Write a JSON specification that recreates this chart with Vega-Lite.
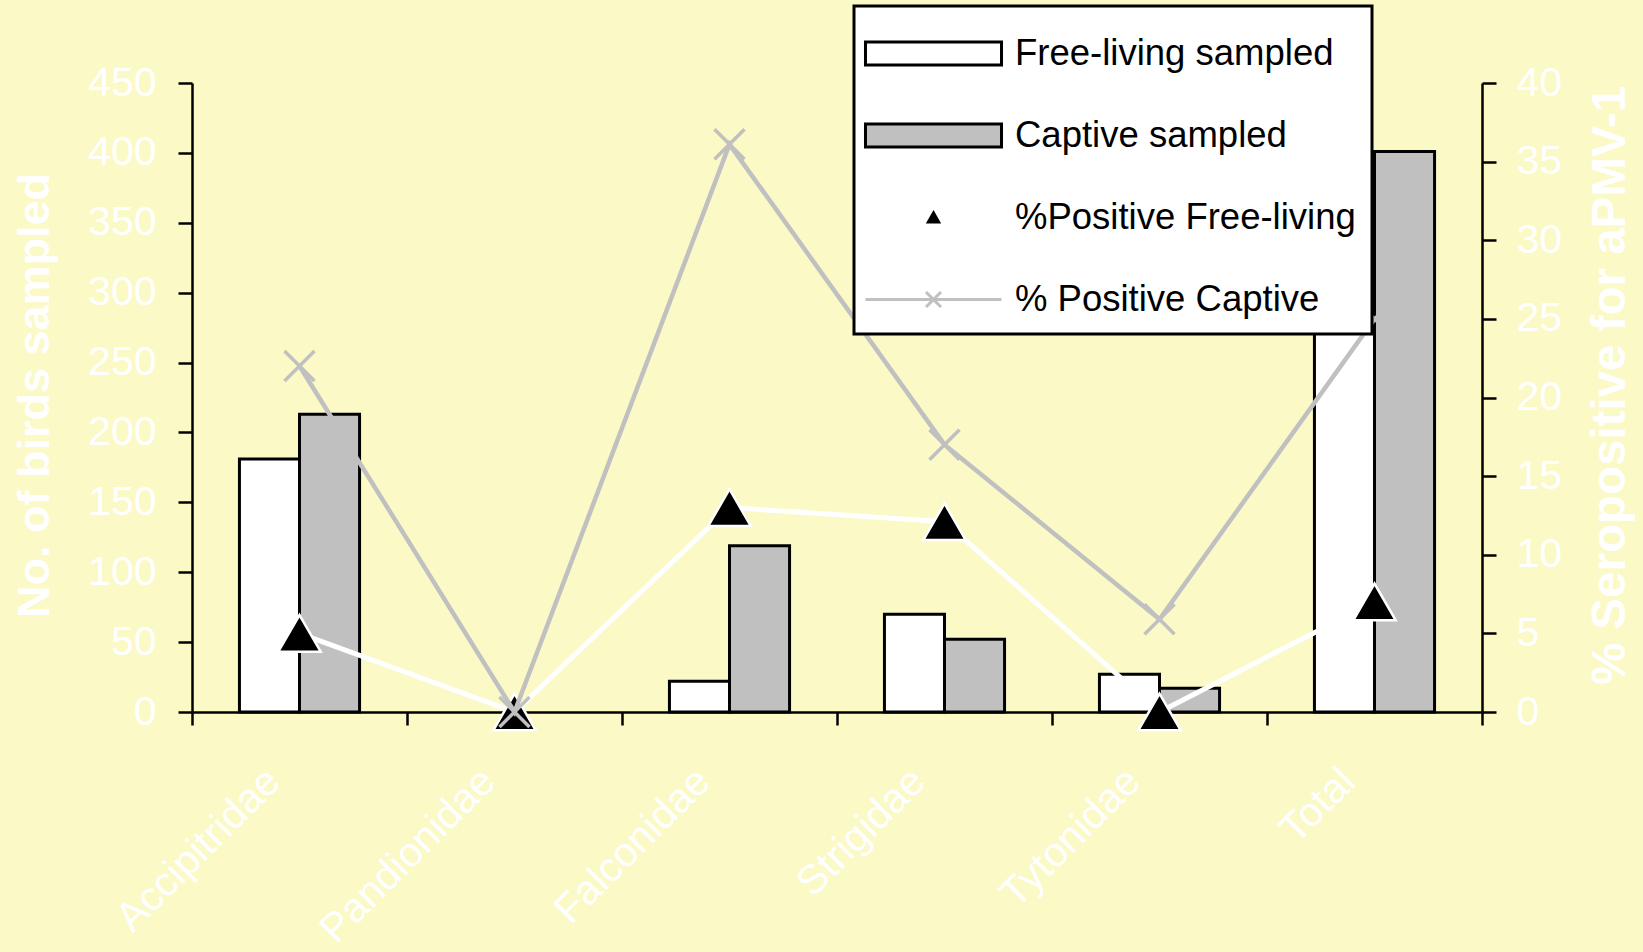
{
  "$schema": "https://vega.github.io/schema/vega-lite/v6.json",
  "autosize": {"type": "none"},
  "width": 1290,
  "height": 629,
  "padding": {"left": 192, "top": 83, "right": 161, "bottom": 240},
  "background": "#FBF9C6",
  "config": {
    "view": {"stroke": null},
    "font": "Liberation Sans",
    "axis": {
      "domainColor": "black", "domainWidth": 2.5,
      "tickColor": "black", "tickWidth": 2.5, "tickSize": 14,
      "labelColor": "white", "labelFont": "Liberation Sans", "labelFontSize": 41,
      "titleColor": "white", "titleFont": "Liberation Sans", "titleFontSize": 45, "titleFontWeight": "bold",
      "grid": false
    }
  },
  "datasets": {
    "counts": [
      {"family": "Accipitridae", "series": "Free-living sampled", "birds": 181},
      {"family": "Accipitridae", "series": "Captive sampled", "birds": 213},
      {"family": "Pandionidae", "series": "Free-living sampled", "birds": 0},
      {"family": "Pandionidae", "series": "Captive sampled", "birds": 0},
      {"family": "Falconidae", "series": "Free-living sampled", "birds": 22},
      {"family": "Falconidae", "series": "Captive sampled", "birds": 119},
      {"family": "Strigidae", "series": "Free-living sampled", "birds": 70},
      {"family": "Strigidae", "series": "Captive sampled", "birds": 52},
      {"family": "Tytonidae", "series": "Free-living sampled", "birds": 27},
      {"family": "Tytonidae", "series": "Captive sampled", "birds": 17},
      {"family": "Total", "series": "Free-living sampled", "birds": 300},
      {"family": "Total", "series": "Captive sampled", "birds": 401}
    ],
    "pct": [
      {"family": "Accipitridae", "series": "%Positive Free-living", "pct": 5.0},
      {"family": "Pandionidae", "series": "%Positive Free-living", "pct": 0},
      {"family": "Falconidae", "series": "%Positive Free-living", "pct": 13.0},
      {"family": "Strigidae", "series": "%Positive Free-living", "pct": 12.1},
      {"family": "Tytonidae", "series": "%Positive Free-living", "pct": 0},
      {"family": "Total", "series": "%Positive Free-living", "pct": 7.0},
      {"family": "Accipitridae", "series": "% Positive Captive", "pct": 22.0},
      {"family": "Pandionidae", "series": "% Positive Captive", "pct": 0},
      {"family": "Falconidae", "series": "% Positive Captive", "pct": 36.1},
      {"family": "Strigidae", "series": "% Positive Captive", "pct": 17.0},
      {"family": "Tytonidae", "series": "% Positive Captive", "pct": 5.9},
      {"family": "Total", "series": "% Positive Captive", "pct": 25.0}
    ]
  },
  "encoding": {
    "x": {
      "field": "family", "type": "nominal",
      "sort": ["Accipitridae", "Pandionidae", "Falconidae", "Strigidae", "Tytonidae", "Total"],
      "scale": {"paddingInner": 0, "paddingOuter": 0},
      "axis": {
        "title": null, "tickBand": "extent", "tickSize": 13,
        "labelAngle": 315, "labelAlign": "right", "labelBaseline": "middle",
        "labelOffset": -26, "labelPadding": 50, "labelLimit": 500
      }
    }
  },
  "layer": [
    {
      "data": {"name": "counts"},
      "mark": {"type": "bar", "stroke": "black", "strokeWidth": 3},
      "encoding": {
        "xOffset": {"field": "series", "type": "nominal",
          "sort": ["Free-living sampled", "Captive sampled"],
          "scale": {"paddingInner": 0, "paddingOuter": 0.79}},
        "y": {"field": "birds", "type": "quantitative",
          "scale": {"domain": [0, 450], "nice": false},
          "axis": {"title": "No. of birds sampled", "orient": "left",
            "values": [0, 50, 100, 150, 200, 250, 300, 350, 400, 450],
            "labelPadding": 22,
            "titleAngle": 270, "titleAlign": "center", "titleBaseline": "middle",
            "titleX": -158, "titleY": 312}},
        "strokeOpacity": {"condition": {"test": "datum.birds === 0", "value": 0}, "value": 1},
        "fill": {
          "field": "series", "type": "nominal",
          "scale": {
            "domain": ["Free-living sampled", "Captive sampled", "%Positive Free-living", "% Positive Captive"],
            "range": ["white", "#C0C0C0", "black", "transparent"]
          },
          "legend": {
            "title": null, "orient": "none", "legendX": 662, "legendY": -77,
            "direction": "vertical", "columns": 1,
            "fillColor": "white", "strokeColor": "black", "padding": 16,
            "symbolSize": 3600, "rowPadding": 32,
            "symbolOffset": 32, "labelOffset": 50,
            "labelFont": "Liberation Sans", "labelFontSize": 36.5, "labelColor": "black", "labelLimit": 700,
            "symbolType": {"expr": "datum.value === 'Free-living sampled' || datum.value === 'Captive sampled' ? 'M-2.267,-0.383H2.267V0.383H-2.267Z' : datum.value === '%Positive Free-living' ? 'M0,-0.15L0.17,0.15L-0.17,0.15Z' : 'M-2.267,0H2.267M-0.25,-0.25L0.25,0.25M-0.25,0.25L0.25,-0.25'"},
            "symbolStrokeColor": {"expr": "datum.value === '% Positive Captive' ? '#C0C0C0' : 'black'"},
            "symbolStrokeWidth": 3,
            "symbolOpacity": 1,
            "encode": {
              "legend": {"update": {"strokeWidth": {"value": 3}}}
            }
          }
        }
      }
    },
    {
      "data": {"name": "pct"},
      "encoding": {
        "y": {"field": "pct", "type": "quantitative",
          "scale": {"domain": [0, 40], "nice": false},
          "axis": {"title": "% Seropositive for aPMV-1", "orient": "right",
            "values": [0, 5, 10, 15, 20, 25, 30, 35, 40],
            "labelPadding": 20, "titleFontSize": 47.5,
            "titleAngle": 270, "titleAlign": "center", "titleBaseline": "middle",
            "titleX": 128, "titleY": 302}}
      },
      "layer": [
        {
          "transform": [{"filter": "datum.series === '%Positive Free-living'"}],
          "mark": {"type": "line", "color": "white", "strokeWidth": 5},
          "encoding": {"order": {"value": null}}
        },
        {
          "transform": [{"filter": "datum.series === '%Positive Free-living'"}],
          "mark": {"type": "point", "filled": true, "shape": "triangle-up", "size": 1800, "stroke": "white", "strokeWidth": 2.5, "opacity": 1},
          "encoding": {"fill": {"field": "series", "type": "nominal"}}
        },
        {
          "transform": [{"filter": "datum.series === '% Positive Captive'"}],
          "mark": {"type": "line", "color": "#C0C0C0", "strokeWidth": 4.5},
          "encoding": {"order": {"value": null}}
        },
        {
          "transform": [{"filter": "datum.series === '% Positive Captive'"}],
          "mark": {"type": "point", "filled": false, "shape": "M-1,-1L1,1M-1,1L1,-1", "size": 900, "stroke": "#C0C0C0", "strokeWidth": 3.5, "opacity": 1},
          "encoding": {"fill": {"field": "series", "type": "nominal"}}
        }
      ]
    }
  ],
  "resolve": {"scale": {"y": "independent"}}
}
